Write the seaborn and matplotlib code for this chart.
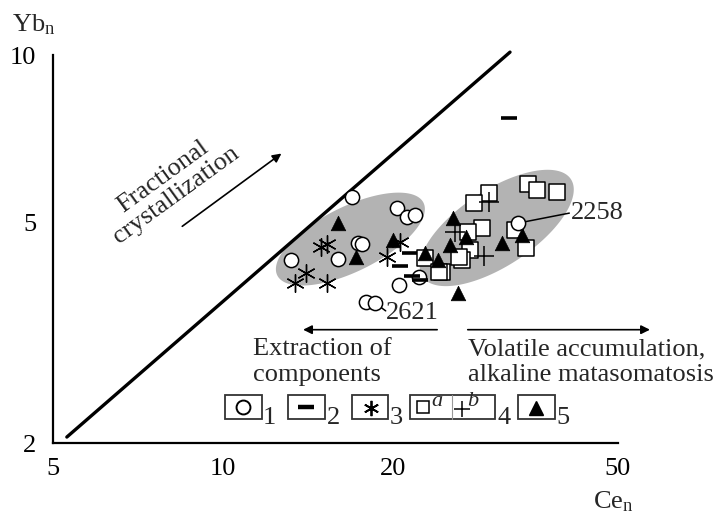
import numpy as np
import matplotlib
matplotlib.use('Agg')
import matplotlib.pyplot as plt
import seaborn as sns
from matplotlib.patches import Rectangle
from matplotlib.lines import Line2D
from matplotlib.ticker import FixedLocator, FixedFormatter, NullLocator

# --- data (Ce_n, Yb_n) ---
# 1: circles
ce_1 = [16.9, 17.3, 17.6, 16.0, 13.2, 20.3, 21.2, 21.9, 17.9, 18.6, 20.5, 22.2]
yb_1 = [5.55, 4.58, 4.57, 4.29, 4.27, 5.30, 5.11, 5.15, 3.59, 3.57, 3.85, 3.98]
# sample 2258 (circle with label)
ce_2258 = [33.3]
yb_2258 = [4.98]
# 2: dashes
ce_2 = [21.4, 20.6, 21.6, 22.3, 32.1]
yb_2 = [4.40, 4.17, 4.00, 3.93, 7.70]
# 3: asterisks
ce_3 = [14.9, 15.3, 14.0, 13.4, 15.3, 20.6, 19.5]
yb_3 = [4.51, 4.57, 4.05, 3.88, 3.88, 4.60, 4.33]
# 4a: squares
ce_4a = [34.6, 36.0, 39.0, 29.6, 27.8, 28.7, 27.1, 27.3, 26.5, 34.3, 32.8, 24.4, 22.8, 24.1, 26.2]
yb_4a = [5.86, 5.71, 5.67, 5.64, 5.41, 4.88, 4.80, 4.45, 4.27, 4.49, 4.84, 4.06, 4.31, 4.06, 4.33]
# 4b: crosses
ce_4b = [29.6, 29.0, 25.7]
yb_4b = [5.43, 4.34, 4.80]
# 5: triangles
ce_5 = [16.0, 20.0, 17.2, 22.8, 24.0, 26.0, 25.5, 25.2, 26.9, 31.2, 33.8]
yb_5 = [4.98, 4.64, 4.33, 4.40, 4.27, 3.73, 5.09, 4.55, 4.70, 4.58, 4.74]

# fractional crystallization line
diag_ce = [5.29, 32.2]
diag_yb = [2.05, 10.12]

x_ticks = [5, 10, 20, 50]
y_ticks = [2, 5, 10]

sns.set_style('white')
plt.rcParams['font.family'] = ['Liberation Serif', 'DejaVu Serif']
plt.rcParams['mathtext.fontset'] = 'stix'
FS = 19

W, H = 722, 516
fig = plt.figure(figsize=(W / 100, H / 100), dpi=100)
ax = fig.add_axes([53 / W, 1 - 443 / H, 565 / W, 388 / H])
ax.set_xscale('log')
ax.set_yscale('log')
ax.set_xlim(5, 50)
ax.set_ylim(2, 10)


def px(x, y):
    return x / W, 1 - y / H


# grey fields (ellipses in log space)
def blob(cx, cy, a, b, ang):
    t = np.linspace(0, 2 * np.pi, 200)
    r = np.deg2rad(ang)
    u, v = a * np.cos(t), b * np.sin(t)
    lx = np.log10(cx) + u * np.cos(r) - v * np.sin(r)
    ly = np.log10(cy) + u * np.sin(r) + v * np.cos(r)
    ax.fill(10 ** lx, 10 ** ly, color='#b3b3b3', lw=0, zorder=1)


blob(16.8, 4.66, 0.145, 0.058, 27)
blob(30.5, 4.88, 0.158, 0.068, 34)

ax.plot(diag_ce, diag_yb, color='black', lw=2.4, clip_on=False, zorder=2)

sns.scatterplot(x=ce_1, y=yb_1, marker='o', s=105, facecolor='white',
                edgecolor='black', linewidth=1.1, ax=ax, zorder=4)
sns.scatterplot(x=ce_2, y=yb_2, marker='_', s=120, color='black',
                linewidth=2.6, ax=ax, zorder=4)
sns.scatterplot(x=ce_3, y=yb_3, marker=(6, 2, 0), s=160, color='black',
                linewidth=1.0, ax=ax, zorder=4)
sns.scatterplot(x=ce_4a, y=yb_4a, marker='s', s=125, facecolor='white',
                edgecolor='black', linewidth=1.1, ax=ax, zorder=5)
sns.scatterplot(x=ce_4b, y=yb_4b, marker='+', s=200, color='black',
                linewidth=1.1, ax=ax, zorder=5)
sns.scatterplot(x=ce_5, y=yb_5, marker='^', s=110, color='black',
                edgecolor='black', linewidth=0.5, ax=ax, zorder=6)
sns.scatterplot(x=ce_2258, y=yb_2258, marker='o', s=105, facecolor='white',
                edgecolor='black', linewidth=1.1, ax=ax, zorder=7)

# sample labels
ax.plot([ce_2258[0], 41.0], [yb_2258[0], 5.19], color='black', lw=1.1, zorder=6)
ax.text(41.3, 5.19, '2258', fontsize=FS, ha='left', va='center', zorder=8)
ax.plot([18.6, 19.4], [3.57, 3.46], color='black', lw=1.1, zorder=3)
ax.text(19.4, 3.43, '2621', fontsize=FS, ha='left', va='center', zorder=8)

# arrows and annotations
arrow = dict(arrowstyle='-|>', color='black', lw=1.2, mutation_scale=13)
ax.annotate('', xy=(12.8, 6.69), xytext=(8.39, 4.88), arrowprops=arrow)
ax.text(8.05, 5.82, 'Fractional\ncrystallization', fontsize=FS, rotation=36,
        ha='center', va='center', rotation_mode='anchor', multialignment='center',
        linespacing=1.05)
ax.annotate('', xy=(13.7, 3.20), xytext=(24.2, 3.20), arrowprops=arrow,
            annotation_clip=False)
ax.annotate('', xy=(57.6, 3.20), xytext=(26.8, 3.20), arrowprops=arrow,
            annotation_clip=False)
ax.text(11.3, 3.09, 'Extraction of\ncomponents', fontsize=FS, ha='left', va='top',
        linespacing=1.2)
ax.text(27.1, 3.09, 'Volatile accumulation,\nalkaline matasomatosis', fontsize=FS,
        ha='left', va='top', clip_on=False, linespacing=1.2)

# axes styling
sns.despine(ax=ax)
for s in ['left', 'bottom']:
    ax.spines[s].set_linewidth(1.6)
    ax.spines[s].set_color('black')
ax.xaxis.set_major_locator(FixedLocator(x_ticks))
ax.xaxis.set_major_formatter(FixedFormatter([str(v) for v in x_ticks]))
ax.yaxis.set_major_locator(FixedLocator(y_ticks))
ax.yaxis.set_major_formatter(FixedFormatter([str(v) for v in y_ticks]))
ax.xaxis.set_minor_locator(NullLocator())
ax.yaxis.set_minor_locator(NullLocator())
ax.tick_params(axis='x', direction='in', length=7, width=1.5, pad=11,
               labelsize=FS, colors='black')
ax.tick_params(axis='y', direction='in', length=7, width=1.5, pad=12,
               labelsize=FS, colors='black')
ax.set_xlabel('')
ax.set_ylabel('')
fig.text(*px(12, 31), r'Yb$_\mathregular{n}$', fontsize=FS, ha='left', va='baseline')
fig.text(*px(634, 508), r'Ce$_\mathregular{n}$', fontsize=FS, ha='right', va='baseline')

# legend row
boxes = [(225, 262), (288, 325), (352, 388), (410, 495), (518, 555)]
for x0, x1 in boxes:
    fig.add_artist(Rectangle(px(x0, 419), (x1 - x0) / W, 24 / H,
                             transform=fig.transFigure, fill=False,
                             edgecolor='#333333', lw=1.3))
fig.add_artist(Line2D([452 / W, 452 / W], [1 - 395 / H, 1 - 419 / H],
                      transform=fig.transFigure, color='#999999', lw=0.8))


def leg_marker(x, y, **kw):
    fig.add_artist(Line2D([x / W], [1 - y / H], transform=fig.transFigure,
                          linestyle='none', **kw))


leg_marker(243, 407, marker='o', ms=10, mfc='white', mec='black', mew=1.4)
leg_marker(306, 407, marker='_', ms=12, color='black', mew=3.2)
leg_marker(371, 408, marker=(6, 2, 0), ms=11, color='black', mew=1.3)
leg_marker(423, 407, marker='s', ms=8, mfc='white', mec='black', mew=1.1)
leg_marker(462, 409, marker='+', ms=12, color='black', mew=1.1)
leg_marker(536, 408, marker='^', ms=10, color='black')
fig.text(*px(431, 406), 'a', fontsize=16, style='italic', ha='left', va='baseline')
fig.text(*px(467, 406), 'b', fontsize=16, style='italic', ha='left', va='baseline')
for lab, x in zip(['1', '2', '3', '4', '5'], [263, 327, 390, 497, 556]):
    fig.text(*px(x, 424), lab, fontsize=FS, ha='left', va='baseline')

fig.savefig('out.png', dpi=100)
